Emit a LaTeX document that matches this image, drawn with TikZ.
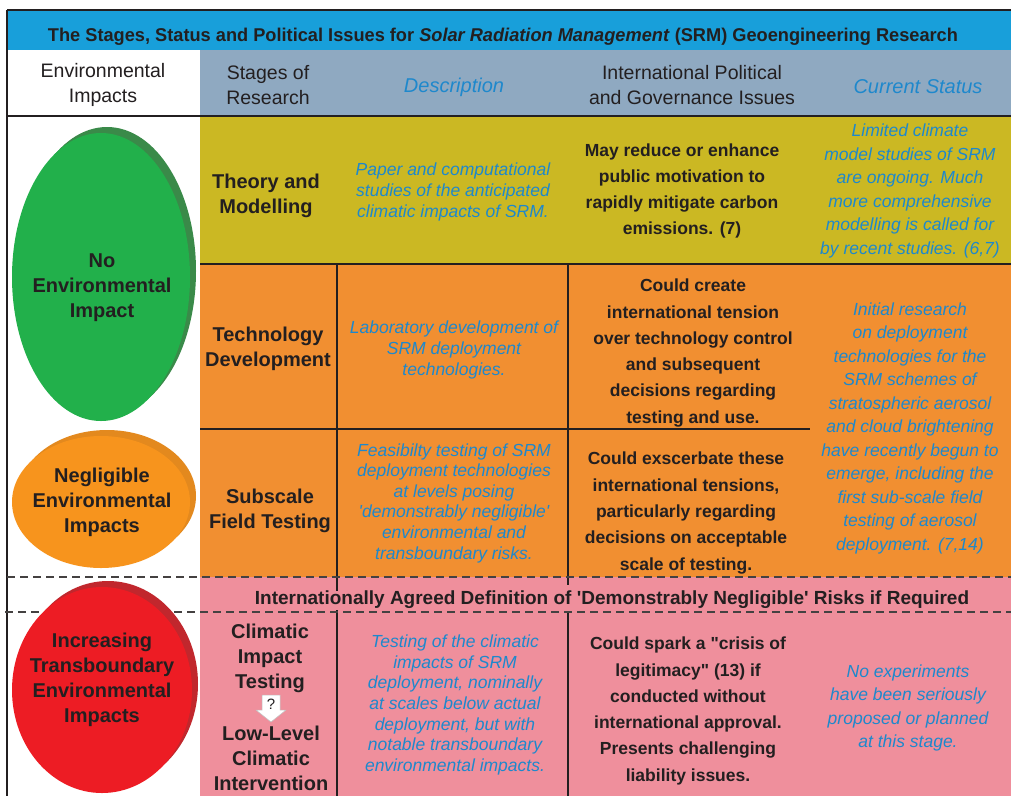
\documentclass[tikz,border=0pt]{standalone}
\usepackage{fontspec}
\setmainfont{Liberation Sans}[Ligatures=TeXOff]
\usetikzlibrary{shapes.geometric}
\definecolor{dk}{HTML}{231F20}
\definecolor{bl}{HTML}{1E88CC}
\definecolor{titleblue}{HTML}{189FDA}
\definecolor{hdrgray}{HTML}{8FA9C1}
\definecolor{yel}{HTML}{CBB823}
\definecolor{org}{HTML}{F18F31}
\definecolor{pnk}{HTML}{EF8F9C}
\definecolor{grn}{HTML}{22B04B}
\definecolor{grnsh}{HTML}{3A8A49}
\definecolor{orgell}{HTML}{F7941D}
\definecolor{orgsh}{HTML}{E3891E}
\definecolor{redell}{HTML}{ED1C24}
\definecolor{redsh}{HTML}{C1272D}
\begin{document}
\begin{tikzpicture}[x=1pt,y=-1pt,
  rule/.style={draw=dk,line width=1.5pt},
  dashrule/.style={draw=dk!85,line width=1.3pt,dash pattern=on 8pt off 5pt},
  stagetxt/.style={font=\fontsize{20}{25}\selectfont\bfseries,text=dk,align=center,inner sep=0pt},
  desctxt/.style={font=\fontsize{17.5}{20.6}\selectfont\itshape,text=bl,align=center,inner sep=0pt},
  poltxt/.style={font=\fontsize{17.5}{26.3}\selectfont\bfseries,text=dk,align=center,inner sep=0pt},
  bandtxt/.style={font=\fontsize{19}{23}\selectfont\bfseries,text=dk,align=center,inner sep=0pt},
  stattxt/.style={font=\fontsize{17.5}{23.5}\selectfont\itshape,text=bl,align=center,inner sep=0pt},
  hdrtxt/.style={font=\fontsize{19.5}{24.5}\selectfont,text=dk,align=center,inner sep=0pt},
  hdrblue/.style={font=\fontsize{20}{24}\selectfont\itshape,text=bl,align=center,inner sep=0pt},
  elltxt/.style={font=\fontsize{20}{25}\selectfont\bfseries,text=dk,align=center,inner sep=0pt},
  ellshape/.style={ellipse,draw=none,inner sep=0pt},
]
\useasboundingbox (0,0) rectangle (1011,796);
\fill[white] (0,0) rectangle (1011,796);
% backgrounds
\fill[titleblue] (7,10) rectangle (1011,50);
\fill[white] (7,50) rectangle (200,116);
\fill[hdrgray] (200,50) rectangle (1011,116);
\fill[yel] (200,116) rectangle (1011,264);
\fill[org] (200,264) rectangle (1011,577);
\fill[pnk] (200,577) rectangle (1011,796);
% title
\node[anchor=base,text=dk,inner sep=0pt] (title) at (503,41)
  {\resizebox{910pt}{\height}{\fontsize{18.5}{22}\selectfont\bfseries The Stages, Status and Political Issues for \textit{Solar Radiation Management} (SRM) Geoengineering Research}};
% header
\node[hdrtxt] (hEnv) at (103,85) {Environmental\\Impacts};
\node[hdrtxt] (hStage) at (268,85) {Stages of\\Research};
\node[hdrblue] (hDesc) at (454,87) {Description};
\node[hdrtxt] (hPol) at (692,85) {International Political\\and Governance Issues};
\node[hdrblue] (hStat) at (918,87) {Current Status};
% rules
\draw[draw=dk,line width=1.2pt] (7,10) -- (1011,10);
\draw[draw=dk,line width=1.2pt] (7,10) -- (7,796);
\draw[rule,line width=1.8pt] (7,116) -- (1011,116);
\draw[rule] (200,264) -- (1011,264);
\draw[rule] (200,429) -- (810,429);
\draw[rule] (337,264) -- (337,591);
\draw[rule] (337,610) -- (337,796);
\draw[rule] (568,264) -- (568,585);
\draw[rule] (568,612) -- (568,796);
\draw[dashrule] (7,577) -- (1011,577);
\draw[dashrule] (5,612) -- (1011,612);
% ellipses
\node[ellshape,fill=grnsh,minimum width=178pt,minimum height=288pt] (gsh) at (107,271) {};
\node[ellshape,fill=grn,minimum width=178pt,minimum height=288pt] (gell) at (101,277) {};
\node[ellshape,fill=orgsh,minimum width=178pt,minimum height=132pt] (osh) at (107,496) {};
\node[ellshape,fill=orgell,minimum width=178pt,minimum height=132pt] (oell) at (101,502) {};
\node[ellshape,fill=redsh,minimum width=180pt,minimum height=206pt] (rsh) at (108,684) {};
\node[ellshape,fill=redell,minimum width=180pt,minimum height=206pt] (rell) at (102,690) {};
\node[elltxt] (gtxt) at (102,288) {No\\Environmental\\Impact};
\node[elltxt] (otxt) at (102,502) {Negligible\\Environmental\\Impacts};
\node[elltxt] (rtxt) at (102,680) {Increasing\\Transboundary\\Environmental\\Impacts};
% theory row
\node[stagetxt] (sTheory) at (266,196) {Theory and\\Modelling};
\node[desctxt] (dTheory) at (453,192) {Paper and computational\\studies of the anticipated\\climatic impacts of SRM.};
\node[poltxt] (pTheory) at (682,191) {May reduce or enhance\\public motivation to\\rapidly mitigate carbon\\emissions. (7)};
\node[stattxt] (cTheory) at (910,191) {Limited climate\\model studies of SRM\\are ongoing. Much\\more comprehensive\\modelling is called for\\by recent studies. (6,7)};
% technology row
\node[stagetxt] (sTech) at (268,349) {Technology\\Development};
\node[desctxt] (dTech) at (454,350) {Laboratory development of\\SRM deployment\\technologies.};
\node[poltxt] (pTech) at (693,353) {Could create\\international tension\\over technology control\\and subsequent\\decisions regarding\\testing and use.};
\node[stattxt] (cTech) at (910,428) {Initial research\\on deployment\\technologies for the\\SRM schemes of\\stratospheric aerosol\\and cloud brightening\\have recently begun to\\emerge, including the\\first sub-scale field\\testing of aerosol\\deployment. (7,14)};
% subscale row
\node[stagetxt] (sSub) at (270,511) {Subscale\\Field Testing};
\node[desctxt] (dSub) at (454,503) {Feasibilty testing of SRM\\deployment technologies\\at levels posing\\'demonstrably negligible'\\environmental and\\transboundary risks.};
\node[poltxt] (pSub) at (686,513) {Could exscerbate these\\international tensions,\\particularly regarding\\decisions on acceptable\\scale of testing.};
% band
\node[bandtxt] (band) at (612,600) {Internationally Agreed Definition of 'Demonstrably Negligible' Risks if Required};
% climatic row
\node[stagetxt] (sClim) at (270,658) {Climatic\\Impact\\Testing};
\node[stagetxt] (sLow) at (271,758) {Low-Level\\Climatic\\Intervention};
\draw[fill=white,draw=black!25,line width=0.5pt] (262,695) -- (280,695) -- (280,710) -- (286,710) -- (271,722) -- (256,710) -- (262,710) -- cycle;
\node[font=\fontsize{15}{18}\selectfont,text=dk,inner sep=0pt] (qmark) at (271,704) {?};
\node[desctxt] (dClim) at (455,705) {Testing of the climatic\\impacts of SRM\\deployment, nominally\\at scales below actual\\deployment, but with\\notable transboundary\\environmental impacts.};
\node[poltxt] (pClim) at (688,711) {Could spark a "crisis of\\legitimacy" (13) if\\conducted without\\international approval.\\Presents challenging\\liability issues.};
\node[stattxt] (cClim) at (908,708) {No experiments\\have been seriously\\proposed or planned\\at this stage.};
\end{tikzpicture}
\end{document}
